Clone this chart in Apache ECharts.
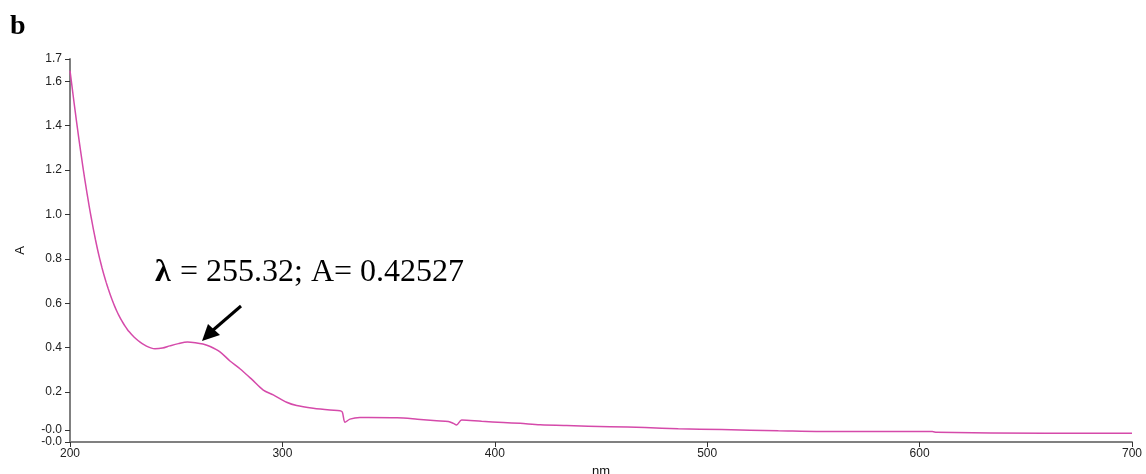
<!DOCTYPE html>
<html>
<head>
<meta charset="utf-8">
<script src="https://cdn.jsdelivr.net/npm/echarts@6/dist/echarts.min.js"></script>
<style>html,body{margin:0;padding:0;background:#fff}#c{width:1146px;height:474px}</style>
</head>
<body>
<div id="c"></div>
<script>
// Wavelength (nm) and absorbance (A)
const wavelengths = [200, 201, 202, 203, 204, 205, 206, 207, 208, 209, 210, 211, 212, 213, 214, 215, 216, 217, 218, 219, 220, 221, 222, 223, 224, 225, 226, 227, 228, 229, 230, 232, 234, 236, 238, 240, 243.5, 247, 251, 255.3, 259, 262.6, 266, 270.6, 275.3, 280, 285.5, 291, 295.7, 302, 306.7, 314.5, 322.4, 327.1, 328.2, 329.5, 331.8, 336.5, 340.4, 354, 363.5, 372.6, 378.1, 380.5, 382, 384.4, 393.8, 404, 411.9, 421.3, 433.8, 454.2, 470.7, 486.4, 506.8, 533.5, 564.1, 606, 608, 659, 700];
const absorbance = [1.648, 1.572, 1.497, 1.424, 1.353, 1.285, 1.219, 1.156, 1.096, 1.039, 0.985, 0.934, 0.886, 0.841, 0.800, 0.762, 0.727, 0.695, 0.665, 0.637, 0.611, 0.587, 0.565, 0.545, 0.527, 0.511, 0.496, 0.482, 0.470, 0.459, 0.449, 0.432, 0.418, 0.407, 0.399, 0.395, 0.398, 0.408, 0.418, 0.425, 0.422, 0.416, 0.405, 0.381, 0.340, 0.305, 0.258, 0.209, 0.187, 0.154, 0.139, 0.127, 0.119, 0.116, 0.110, 0.064, 0.078, 0.085, 0.085, 0.084, 0.078, 0.071, 0.067, 0.059, 0.052, 0.074, 0.068, 0.063, 0.059, 0.053, 0.049, 0.044, 0.040, 0.035, 0.031, 0.026, 0.022, 0.022, 0.019, 0.014, 0.014];

// Axis ticks and their printed labels
const yTickValues = [-0.025, 0.03, 0.2, 0.4, 0.6, 0.8, 1.0, 1.2, 1.4, 1.6, 1.7];
const yTickLabels = ['-0.0', '-0.0', '0.2', '0.4', '0.6', '0.8', '1.0', '1.2', '1.4', '1.6', '1.7'];
const xTickValues = [200, 300, 400, 500, 600, 700];

const annotationLabel = '= 255.32; A= 0.42527';

const chart = echarts.init(document.getElementById('c'), null, {renderer: 'canvas'});
const labelFont = {fontFamily: 'Liberation Sans, Arial, sans-serif', fontSize: 12, color: '#222'};

chart.setOption({
  animation: false,
  backgroundColor: '#fff',
  grid: {left: 70, right: 14, top: 59, bottom: 32, containLabel: false, outerBoundsMode: 'none'},
  xAxis: {
    type: 'value', min: 200, max: 700, interval: 100,
    name: 'nm', nameLocation: 'middle', nameGap: 20,
    nameTextStyle: {fontFamily: 'Liberation Sans, Arial, sans-serif', fontSize: 13, color: '#111'},
    axisLine: {show: true, onZero: false, lineStyle: {color: '#808080', width: 2}},
    axisTick: {show: true, length: 5, lineStyle: {color: '#333', width: 1}, customValues: xTickValues},
    axisLabel: Object.assign({margin: 6, customValues: xTickValues}, labelFont),
    splitLine: {show: false}
  },
  yAxis: {
    type: 'value', min: -0.025, max: 1.7,
    name: 'A', nameLocation: 'middle', nameGap: 43, nameRotate: 90,
    nameTextStyle: {fontFamily: 'Liberation Sans, Arial, sans-serif', fontSize: 13, color: '#111'},
    axisLine: {show: true, onZero: false, lineStyle: {color: '#808080', width: 2}},
    axisTick: {show: true, length: 5, lineStyle: {color: '#333', width: 1}, customValues: yTickValues},
    axisLabel: Object.assign({
      margin: 8,
      customValues: yTickValues,
      hideOverlap: false,
      formatter: function (v) {
        let best = 0, d = Infinity;
        yTickValues.forEach((t, i) => { const dd = Math.abs(t - v); if (dd < d) { d = dd; best = i; } });
        return yTickLabels[best];
      }
    }, labelFont),
    splitLine: {show: false}
  },
  series: [{
    type: 'line',
    data: wavelengths.map((w, i) => [w, absorbance[i]]),
    showSymbol: false,
    smooth: 0.3,
    lineStyle: {color: '#d54aaa', width: 1.5},
    clip: true
  }],
  graphic: [
    {type: 'text', left: 10, top: 13, style: {text: 'b', font: 'bold 28px "Liberation Serif", "Times New Roman", serif', fill: '#000'}},
    {type: 'text', x: 155, y: 257, style: {text: 'λ', font: 'bold 32px "Liberation Serif", "Times New Roman", serif', fill: '#000'}},
    {type: 'text', x: 172, y: 257, style: {text: ' ' + annotationLabel, font: '32px "Liberation Serif", "Times New Roman", serif', fill: '#000'}},
    {type: 'line', shape: {x1: 241, y1: 306, x2: 212, y2: 331}, style: {stroke: '#000', lineWidth: 3}},
    {type: 'polygon', shape: {points: [[202, 341], [208, 324], [220, 335]]}, style: {fill: '#000'}}
  ]
});
</script>
</body>
</html>
